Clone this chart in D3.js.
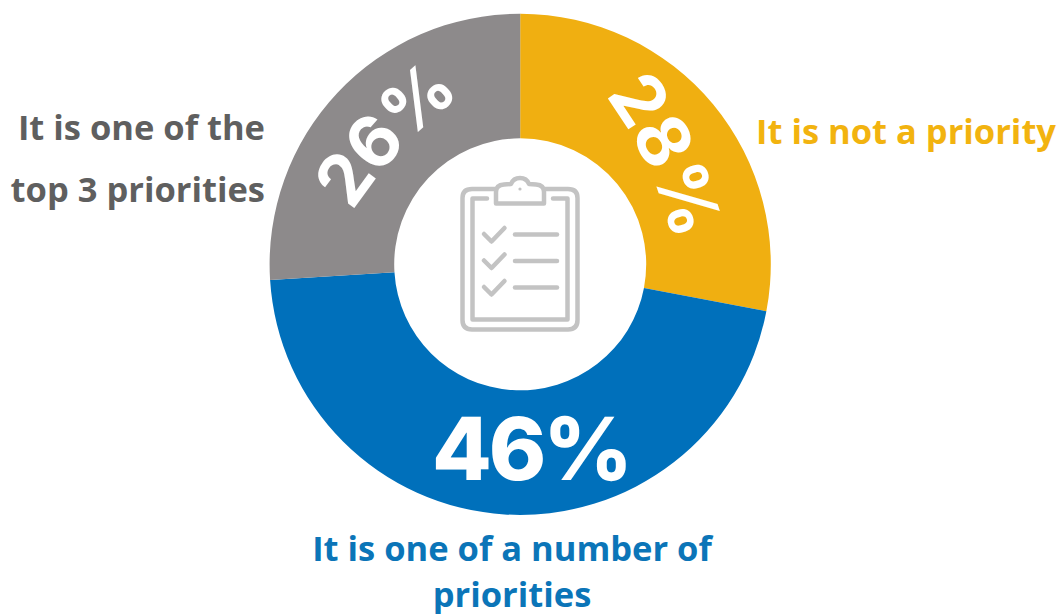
<!DOCTYPE html>
<html>
<head>
<meta charset="utf-8">
<script src="https://cdn.jsdelivr.net/npm/d3@7/dist/d3.min.js"></script>
<style>
  html, body { margin: 0; padding: 0; background: #fff; }
  svg { display: block; }
  .callout { font-family: "Open Sans", sans-serif; font-weight: 700; font-size: 34.5px; }
  .pct { font-family: "Inter", "Noto Sans", sans-serif; fill: #fff; text-anchor: middle; }
</style>
</head>
<body>
<svg id="chart" width="1061" height="614"></svg>
<script>
// Survey answers, clockwise from twelve o'clock
const categories = ["It is not a priority", "It is one of a number of priorities", "It is one of the top 3 priorities"];
const shares = [28, 46, 26];
const sliceColors = ["#f0af11", "#0070bb", "#8d8a8b"];
const calloutColors = ["#f2b30f", "#0b75b8", "#5f5f5f"];

const svg = d3.select("#chart");
const cx = 520.2, cy = 264.3, outer = 250.6, inner = 126;

const pie = d3.pie().sort(null).value(d => d)(shares);
const arc = d3.arc().innerRadius(inner).outerRadius(outer);
const root = svg.append("g").attr("transform", `translate(${cx},${cy})`);

root.selectAll("path.slice").data(pie).join("path")
  .attr("class", "slice")
  .attr("d", arc)
  .attr("fill", (d, i) => sliceColors[i]);

// Percentage labels sit in the ring. The two upper ones run along a gentle
// curve: each baseline is an arc of radius `bend` through an anchor near the
// slice's middle, turned by `rotate` at that anchor.
const labelArc = d3.arc().innerRadius(164).outerRadius(164);
const labelStyle = [
  { rotate: 65, bend: 400, size: 72, weight: 700, dx: 0, dy: 5, spacing: -1 },
  { rotate: 0, bend: 90000, size: 87, weight: 800, dx: 21, dy: 52, spacing: -3 },
  { rotate: -47, bend: 480, size: 71, weight: 700, dx: 1, dy: -3, spacing: -1 }
];
const defs = svg.append("defs");
pie.forEach((d, i) => {
  const s = labelStyle[i];
  const [x, y] = labelArc.centroid(d);
  const ax = x + s.dx, ay = y + s.dy;
  const half = 130 / s.bend;
  const rot = s.rotate * Math.PI / 180;
  // centre of the baseline circle lies on the glyphs' lower side
  const ox = ax - s.bend * Math.sin(rot), oy = ay + s.bend * Math.cos(rot);
  const at = t => [ox + s.bend * Math.sin(rot + t), oy - s.bend * Math.cos(rot + t)];
  const [x0, y0] = at(-half), [x1, y1] = at(half);
  defs.append("path")
    .attr("id", `pct-path-${i}`)
    .attr("d", `M${x0} ${y0}A${s.bend} ${s.bend} 0 0 1 ${x1} ${y1}`);
  root.append("text")
    .attr("class", "pct")
    .attr("font-size", s.size)
    .attr("font-weight", s.weight)
    .attr("letter-spacing", s.spacing)
    .append("textPath")
    .attr("href", `#pct-path-${i}`)
    .attr("startOffset", "50%")
    .text(d.value + "%");
});

// Category callouts around the ring
const calloutLines = [
  { lines: ["It is not a priority"], x: 1056, y: [144], anchor: "end" },
  { lines: ["It is one of a number of", "priorities"], x: 512, y: [561, 607], anchor: "middle" },
  { lines: ["It is one of the", "top 3 priorities"], x: 265, y: [140, 202], anchor: "end" }
];
calloutLines.forEach((c, i) => {
  c.lines.forEach((line, j) => {
    svg.append("text")
      .attr("class", "callout")
      .attr("x", c.x)
      .attr("y", c.y[j])
      .attr("text-anchor", c.anchor)
      .attr("fill", calloutColors[i])
      .text(line);
  });
});

// Clipboard pictogram in the hole
const icon = svg.append("g")
  .attr("fill", "none")
  .attr("stroke", "#c3c3c3")
  .attr("stroke-width", 4.5)
  .attr("stroke-linecap", "round")
  .attr("stroke-linejoin", "round");
icon.append("path").attr("d", "M496 189H472Q462.500 189 462.500 198V320Q462.500 329.500 472 329.500H568Q577.500 329.500 577.500 320V198Q577.500 189 568 189H544");
icon.append("path").attr("d", "M487 198.500H472.500V319.500H567.500V198.500H553");
icon.append("path").attr("d", "M496 203.500V192Q496 185 504 184.500L511 184C513 179 516 178 520 178C524 178 527 179 529 184L536 184.500Q544 185 544 192V203.500Z");
icon.append("circle").attr("cx", 520).attr("cy", 189).attr("r", 1.6).attr("fill", "#c3c3c3").attr("stroke", "none");
[234.500, 261, 287.500].forEach(y => {
  icon.append("path").attr("d", `M484 ${y - 0.500}L491.500 ${y + 7}L504.500 ${y - 6.500}`);
  icon.append("path").attr("d", `M515 ${y}H557`);
});
</script>
</body>
</html>
